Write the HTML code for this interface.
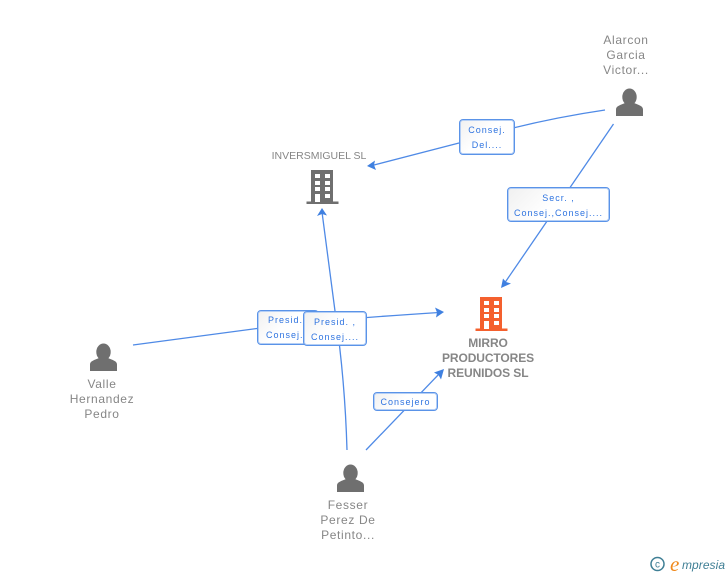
<!DOCTYPE html>
<html>
<head>
<meta charset="utf-8">
<style>
html,body{margin:0;padding:0;background:#fff;}
#c{position:relative;width:728px;height:575px;overflow:hidden;background:#fff;font-family:"Liberation Sans",sans-serif;}
svg{position:absolute;left:0;top:0;}
.n{position:absolute;text-align:center;color:#868686;font-size:12px;line-height:15px;letter-spacing:.65px;white-space:nowrap;}
.b{position:absolute;box-sizing:border-box;border:1px solid #5a93e8;border-radius:4px;background:linear-gradient(135deg,#f0f0f0 0%,#fff 45%);box-shadow:inset 0 0 0 1px #b5cff5;text-align:center;color:#2f74e0;font-size:9px;line-height:15px;letter-spacing:1px;white-space:nowrap;}
</style>
</head>
<body>
<div id="c">
<svg width="728" height="575" viewBox="0 0 728 575">
  <defs>
    <g id="p"><ellipse cx="0" cy="-19" rx="7.2" ry="8.5" fill="#6f6f6f"/><path d="M-13.5 0V-6.5C-13.5-10-9-11-4.5-13L4.500-13C9-11 13.500-10 13.500-6.500V0Z" fill="#6f6f6f"/></g>
    <g id="bd">
      <rect x="4" y="0" width="22" height="32" fill="currentColor"/>
      <rect x="-0.500" y="31.500" width="32" height="2.500" fill="currentColor"/>
      <g fill="#fff">
        <rect x="8" y="4" width="5" height="4"/><rect x="18" y="4" width="5" height="4"/>
        <rect x="8" y="11" width="5" height="4"/><rect x="18" y="11" width="5" height="4"/>
        <rect x="8" y="17" width="5" height="4"/><rect x="18" y="17" width="5" height="4"/>
        <rect x="8" y="24" width="5" height="8"/><rect x="18" y="24" width="5" height="4"/>
      </g>
    </g>
  </defs>
  <g fill="none" stroke="#4f8ae6" stroke-width="1.300">
    <path d="M605 110Q530 121 459 143L372 165.500"/>
    <path d="M613.500 124L504 284"/>
    <path d="M133 345L257 328.500Q320 320 439 312.500"/>
    <path d="M347 450Q345 380 335 311L322 212"/>
    <path d="M366 450L440 373"/>
  </g>
  <g fill="#3f80e0">
    <path d="M367 166L375 160.500L374 165L376 170Z"/>
    <path d="M501 288L503 278.500L506 282L511 283.500Z"/>
    <path d="M444 312L435 307.500L437 312.500L436 317.500Z"/>
    <path d="M322 208L317 216L322 214L327 215.500Z"/>
    <path d="M444 369L434 372.500L438.500 375L441 379.500Z"/>
  </g>
  <use href="#p" x="629.500" y="116"/>
  <use href="#p" x="103.500" y="371"/>
  <use href="#p" x="350.500" y="492"/>
  <use href="#bd" x="307" y="170" style="color:#6f6f6f"/>
  <use href="#bd" x="476" y="297" style="color:#f4602e"/>
</svg>

<div class="n" style="left:596px;top:33px;width:60px;">Alarcon<br>Garcia<br>Victor...</div>
<div class="n" style="left:262px;top:149px;width:114px;font-size:10.500px;letter-spacing:0;">INVERSMIGUEL SL</div>
<div class="n" style="left:62px;top:377px;width:80px;">Valle<br>Hernandez<br>Pedro</div>
<div class="n" style="left:308px;top:498px;width:80px;">Fesser<br>Perez De<br>Petinto...</div>
<div class="n" style="left:428px;top:336px;width:120px;font-weight:bold;letter-spacing:-.1px;">MIRRO<br>PRODUCTORES<br>REUNIDOS SL</div>

<div class="b" style="left:459px;top:119px;width:56px;height:36px;padding-top:3px;">Consej.<br>Del....</div>
<div class="b" style="left:507px;top:187px;width:103px;height:35px;padding-top:3px;">Secr. ,<br>Consej.,Consej....</div>
<div class="b" style="left:257px;top:310px;width:62px;height:35px;padding-top:2px;padding-left:8px;text-align:left;"><span style="margin-left:2px">Presid. ,</span><br>Consej....</div>
<div class="b" style="left:303px;top:311px;width:64px;height:35px;padding-top:3px;">Presid. ,<br>Consej....</div>
<div class="b" style="left:373px;top:392px;width:65px;height:19px;padding-top:2px;">Consejero</div>

<svg width="728" height="575" viewBox="0 0 728 575" style="pointer-events:none">
  <circle cx="657.500" cy="564" r="6.500" fill="none" stroke="#3f7f95" stroke-width="1.500"/>
  <text x="657.500" y="567.500" font-size="10" text-anchor="middle" fill="#3f7f95" font-family="Liberation Sans">c</text>
  <text x="670" y="571" font-size="21" fill="#f08a1d" font-style="italic" font-family="Liberation Serif">e</text>
  <text x="682" y="569" font-size="12" textLength="43" fill="#3f7f95" font-style="italic" font-family="Liberation Sans">mpresia</text>
</svg>
</div>
</body>
</html>
